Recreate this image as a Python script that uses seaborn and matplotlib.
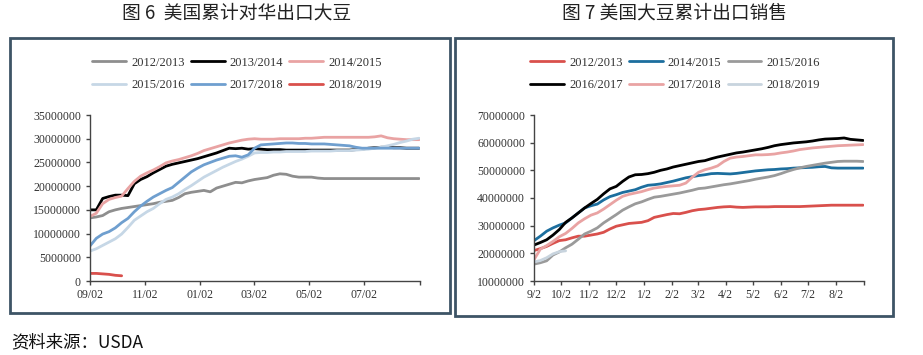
import pandas as pd
import matplotlib
matplotlib.use('Agg')
import matplotlib.pyplot as plt
import seaborn as sns
from matplotlib.patches import Rectangle
from matplotlib.ticker import FuncFormatter, MultipleLocator

sns.set_style('ticks')
plt.rcParams['font.family'] = ['Liberation Serif', 'Noto Sans CJK SC']

# weekly points, values in million tonnes-ish units (x1e6 when plotted)
weeks = list(range(53))

# ---- 图6 美国累计对华出口大豆
china_2012 = [13.3, 13.5, 13.8, 14.6, 15.0, 15.3, 15.5, 15.7, 15.9, 16.1, 16.3, 16.6, 16.8, 17.0, 17.6,
              18.4, 18.7, 18.9, 19.1, 18.8, 19.6, 20.0, 20.4, 20.8, 20.7, 21.1, 21.4, 21.6, 21.8, 22.3,
              22.6, 22.5, 22.1, 21.9, 21.9, 21.9, 21.7, 21.6, 21.6, 21.6, 21.6, 21.6, 21.6, 21.6, 21.6,
              21.6, 21.6, 21.6, 21.6, 21.6, 21.6, 21.6, 21.6]
china_2013 = [15.0, 15.0, 17.4, 17.8, 18.1, 18.1, 18.0, 20.5, 21.4, 22.0, 22.8, 23.5, 24.2, 24.6, 24.9,
              25.2, 25.5, 25.8, 26.2, 26.6, 27.0, 27.5, 28.0, 27.9, 28.0, 27.8, 27.9, 27.8, 27.7, 27.7,
              27.7, 27.6, 27.6, 27.6, 27.6, 27.6, 27.6, 27.6, 27.6, 27.6, 27.6, 27.6, 27.7, 27.8, 28.0,
              28.1, 28.2, 28.2, 28.1, 28.1, 28.0, 28.0, 28.0]
china_2014 = [13.6, 14.3, 16.3, 17.2, 17.6, 17.9, 19.5, 21.0, 22.1, 22.8, 23.4, 24.1, 24.9, 25.3, 25.6,
              26.0, 26.4, 26.9, 27.5, 27.9, 28.3, 28.7, 29.1, 29.4, 29.7, 29.9, 30.0, 29.9, 29.9, 29.9,
              30.0, 30.0, 30.0, 30.0, 30.1, 30.1, 30.2, 30.3, 30.3, 30.3, 30.3, 30.3, 30.3, 30.3, 30.3,
              30.4, 30.6, 30.2, 30.0, 29.9, 29.8, 29.8, 29.8]
china_2015 = [6.3, 6.8, 7.5, 8.2, 8.9, 9.9, 11.3, 12.8, 13.7, 14.6, 15.3, 16.3, 17.2, 17.7, 18.4,
              19.3, 20.1, 21.0, 21.9, 22.6, 23.3, 24.0, 24.6, 25.2, 25.7, 26.3, 27.0, 27.1, 27.1, 27.2,
              27.2, 27.3, 27.3, 27.3, 27.3, 27.4, 27.4, 27.4, 27.4, 27.5, 27.5, 27.5, 27.6, 27.7, 27.8,
              28.0, 28.2, 28.5, 28.8, 29.2, 29.5, 29.9, 30.1]
china_2017 = [7.4, 9.0, 9.9, 10.4, 11.2, 12.3, 13.2, 14.6, 15.8, 16.8, 17.7, 18.4, 19.1, 19.7, 20.8,
              21.9, 23.0, 23.8, 24.5, 25.0, 25.5, 25.9, 26.3, 26.4, 26.1, 26.6, 28.0, 28.7, 28.8, 28.9,
              29.0, 29.1, 29.1, 29.0, 29.0, 28.9, 28.9, 28.9, 28.8, 28.7, 28.6, 28.5, 28.2, 28.0, 28.0,
              28.0, 28.0, 28.0, 28.0, 28.0, 28.0, 28.0, 28.0]
china_2018 = [1.6, 1.6, 1.5, 1.4, 1.2, 1.1]

# ---- 图7 美国大豆累计出口销售
sales_2012 = [21.0, 21.7, 22.5, 23.6, 24.6, 24.9, 25.6, 26.2, 26.2, 26.6, 27.0, 27.6, 28.8, 29.8, 30.3,
              30.8, 31.0, 31.2, 31.8, 33.0, 33.5, 34.0, 34.4, 34.3, 34.8, 35.4, 35.8, 36.0, 36.3, 36.6,
              36.8, 36.9, 36.7, 36.6, 36.7, 36.8, 36.8, 36.8, 36.9, 36.9, 36.9, 36.9, 36.9, 37.0, 37.1,
              37.2, 37.3, 37.4, 37.4, 37.4, 37.4, 37.4, 37.4]
sales_2014 = [24.6, 26.2, 28.0, 29.2, 30.2, 31.0, 32.8, 34.6, 36.4, 37.2, 37.8, 39.3, 40.5, 41.2, 42.0,
              42.5, 43.0, 43.9, 44.6, 44.8, 45.1, 45.6, 46.1, 46.7, 47.3, 47.7, 48.1, 48.4, 48.8, 48.9,
              48.8, 48.7, 48.9, 49.2, 49.5, 49.8, 50.0, 50.2, 50.3, 50.5, 50.6, 50.8, 50.9, 51.0, 51.1,
              51.3, 51.4, 50.9, 50.8, 50.8, 50.8, 50.8, 50.8]
sales_2015 = [16.1, 16.6, 17.3, 19.4, 20.5, 22.0, 23.3, 25.1, 27.0, 28.0, 29.2, 31.0, 32.5, 34.0, 35.6,
              36.8, 37.9, 38.6, 39.5, 40.3, 40.6, 41.0, 41.4, 41.8, 42.3, 42.8, 43.4, 43.6, 44.0, 44.4,
              44.8, 45.1, 45.5, 45.9, 46.3, 46.8, 47.2, 47.6, 48.1, 48.8, 49.6, 50.3, 50.9, 51.4, 51.8,
              52.2, 52.6, 52.9, 53.2, 53.3, 53.3, 53.3, 53.2]
sales_2016 = [23.0, 23.9, 24.9, 26.6, 28.6, 31.2, 32.8, 34.6, 36.4, 38.0, 39.5, 41.5, 43.3, 44.2, 46.0,
              47.6, 48.4, 48.5, 48.8, 49.3, 50.0, 50.5, 51.2, 51.7, 52.2, 52.7, 53.2, 53.5, 54.2, 54.8,
              55.3, 55.8, 56.3, 56.6, 57.0, 57.4, 57.8, 58.3, 58.9, 59.3, 59.6, 59.9, 60.1, 60.3, 60.6,
              61.0, 61.3, 61.4, 61.5, 61.7, 61.2, 61.0, 60.8]
sales_2017 = [17.7, 21.5, 22.8, 24.3, 26.0, 27.2, 29.0, 31.0, 32.5, 33.8, 34.6, 36.0, 37.6, 39.2, 40.6,
              41.3, 41.8, 42.3, 43.0, 43.6, 43.9, 44.2, 44.4, 44.6, 45.4, 47.5, 49.3, 50.2, 50.8, 51.6,
              53.2, 54.4, 54.8, 55.0, 55.3, 55.6, 55.6, 55.7, 55.9, 56.3, 56.6, 57.0, 57.5, 57.8, 58.1,
              58.3, 58.5, 58.7, 58.9, 59.0, 59.1, 59.2, 59.3]
sales_2018 = [16.9, 17.4, 18.4, 19.8, 20.6, 20.9]

left_series = {'2012/2013': china_2012, '2013/2014': china_2013, '2014/2015': china_2014,
               '2015/2016': china_2015, '2017/2018': china_2017, '2018/2019': china_2018}
left_colors = ['#8e8e8e', '#000000', '#e9a3a3', '#c6d7e6', '#6f9fcf', '#d9504c']
left_ticks = ['2017-09-02', '2017-11-02', '2018-01-02', '2018-03-02', '2018-05-02', '2018-07-02', '2018-09-02']
left_labels = ['09/02', '11/02', '01/02', '03/02', '05/02', '07/02', '']

right_series = {'2012/2013': sales_2012, '2014/2015': sales_2014, '2015/2016': sales_2015,
                '2016/2017': sales_2016, '2017/2018': sales_2017, '2018/2019': sales_2018}
right_colors = ['#d9504c', '#1c6e9e', '#9a9a9a', '#000000', '#e9a3a3', '#c8d4de']
right_ticks = ['2017-09-02', '2017-10-02', '2017-11-02', '2017-12-02', '2018-01-02', '2018-02-02',
               '2018-03-02', '2018-04-02', '2018-05-02', '2018-06-02', '2018-07-02', '2018-08-02', '2018-09-02']
right_labels = ['9/2', '10/2', '11/2', '12/2', '1/2', '2/2', '3/2', '4/2', '5/2', '6/2', '7/2', '8/2', '']


def to_long(series):
    rows = []
    for name, vals in series.items():
        for w, v in zip(weeks, vals):
            rows.append({'season': name, 'day': w * 7, 'value': v * 1e6})
    return pd.DataFrame(rows)


fig = plt.figure(figsize=(9.23, 3.55), dpi=100)

# panel frames
fig.add_artist(Rectangle((10 / 923, 42 / 355), 440 / 923, 275 / 355, transform=fig.transFigure,
                         fill=False, ec='#3d5466', lw=2))
fig.add_artist(Rectangle((455 / 923, 39 / 355), 438 / 923, 278 / 355, transform=fig.transFigure,
                         fill=False, ec='#3d5466', lw=2))

panels = [
    (left_series, left_colors, left_ticks, left_labels, (0, 35e6), 5e6, 90, 237,
     '图 6  美国累计对华出口大豆'),
    (right_series, right_colors, right_ticks, right_labels, (10e6, 70e6), 10e6, 534, 675,
     '图 7 美国大豆累计出口销售'),
]

for series, colors, ticks, labels, ylim, ystep, left_px, cx, title in panels:
    ax = fig.add_axes([left_px / 923, 74 / 355, 330 / 923, 166 / 355])
    df = to_long(series)
    sns.lineplot(data=df, x='day', y='value', hue='season', palette=colors, sort=False,
                 estimator=None, lw=2, ax=ax)

    tick_dates = pd.to_datetime(ticks)
    tick_days = [(d - tick_dates[0]).days for d in tick_dates]
    ax.set_xlim(0, tick_days[-1])
    ax.set_xticks(tick_days)
    ax.set_xticklabels(labels)
    ax.set_ylim(*ylim)
    ax.yaxis.set_major_locator(MultipleLocator(ystep))
    ax.yaxis.set_major_formatter(FuncFormatter(lambda v, p: f'{v:.0f}'))
    ax.set_xlabel('')
    ax.set_ylabel('')
    sns.despine(ax=ax)
    for s in ['left', 'bottom']:
        ax.spines[s].set_color('#444444')
        ax.spines[s].set_linewidth(1)
    ax.tick_params(axis='both', labelsize=8.5, colors='#444444', labelcolor='#333333',
                   length=3, width=1, direction='out')
    ax.tick_params(axis='x', pad=3)

    handles, names = ax.get_legend_handles_labels()
    ax.get_legend().remove()
    order = [0, 3, 1, 4, 2, 5]
    leg = fig.legend([handles[i] for i in order], [names[i] for i in order], ncol=3,
                     loc='center', bbox_to_anchor=(cx / 923, 1 - 74 / 355), frameon=False,
                     fontsize=9, handlelength=2.7, handletextpad=0.4, columnspacing=0.5,
                     labelspacing=0.85)
    for t in leg.get_texts():
        t.set_color('#333333')

    fig.text(cx / 923, 1 - 13 / 355, title, ha='center', va='center', fontsize=13.5,
             family=['Noto Sans CJK SC', 'DejaVu Sans'], color='#222222')

fig.text(11 / 923, 1 - 342 / 355, '资料来源：USDA', ha='left', va='center', fontsize=12.5,
         family=['Noto Sans CJK SC', 'DejaVu Sans'], color='#111111')

fig.savefig('out.png', dpi=100)
